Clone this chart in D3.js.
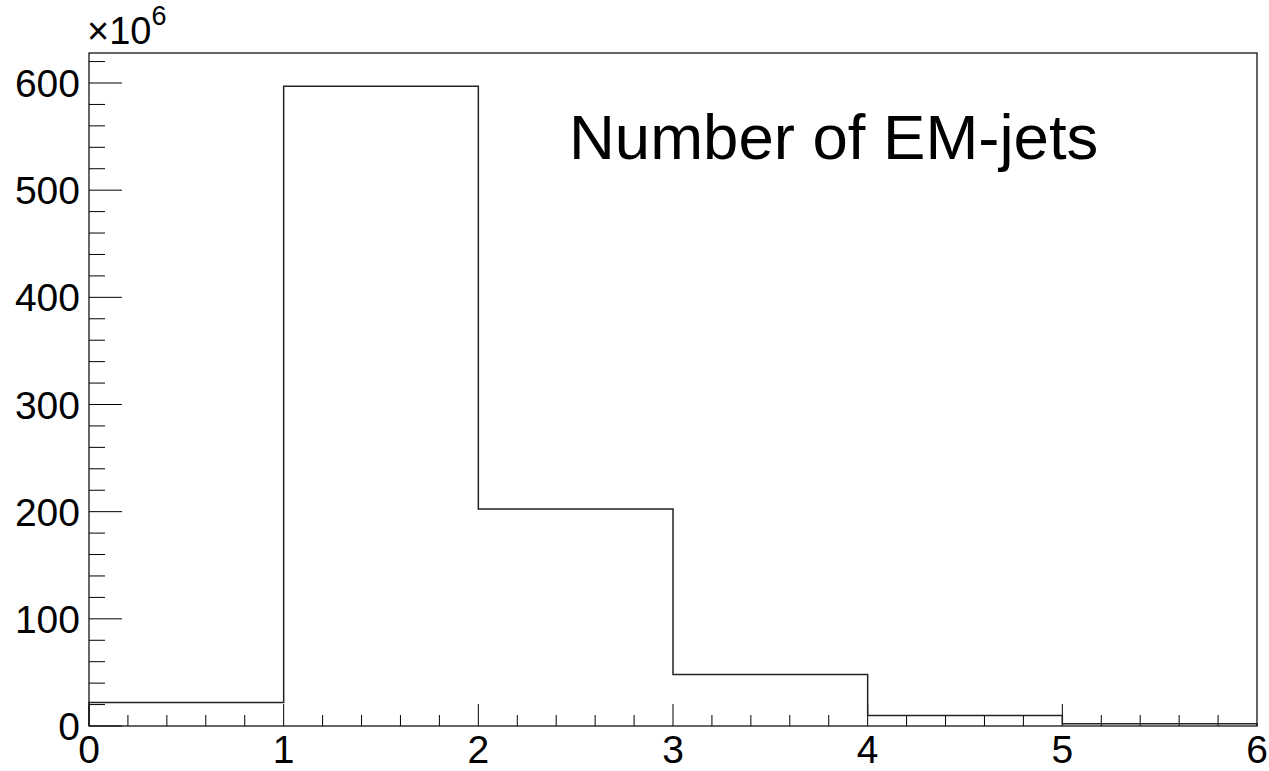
<!DOCTYPE html>
<html>
<head>
<meta charset="utf-8">
<script src="https://cdn.jsdelivr.net/npm/d3@7"></script>
<style>
  body { margin: 0; background: #fff; }
  text { font-family: "Liberation Sans", Arial, sans-serif; fill: #000; }
</style>
</head>
<body>
<script>
// histogram bins (number of EM-jets), contents in units of 1e6
var binEdges = [0, 1, 2, 3, 4, 5, 6];
var binCounts = [22, 597, 202.5, 48, 9.8, 2.1];
var xTicks = [0, 1, 2, 3, 4, 5, 6];
var yTicks = [0, 100, 200, 300, 400, 500, 600];
var title = "Number of EM-jets";

var W = 1269, H = 771;
var m = {left: 89, right: 12, top: 53, bottom: 45};

var svg = d3.select("body").append("svg")
  .attr("width", W).attr("height", H);

var x = d3.scaleLinear().domain([0, 6]).range([m.left, W - m.right]);
var y = d3.scaleLinear().domain([0, 628]).range([H - m.bottom, m.top]);

// frame
svg.append("rect")
  .attr("x", x(0)).attr("y", y(628))
  .attr("width", x(6) - x(0)).attr("height", y(0) - y(628))
  .attr("fill", "none").attr("stroke", "#000").attr("stroke-width", 1.2);

// y ticks: major every 100, minor every 20
var yMinor = d3.range(0, 628, 20);
svg.selectAll("line.ymin").data(yMinor).enter().append("line")
  .attr("x1", x(0)).attr("x2", function(d) { return x(0) + (d % 100 === 0 ? 33 : 16); })
  .attr("y1", function(d) { return y(d); }).attr("y2", function(d) { return y(d); })
  .attr("stroke", "#000").attr("stroke-width", 1);

svg.selectAll("text.ylab").data(yTicks).enter().append("text")
  .attr("x", x(0) - 9).attr("y", function(d) { return y(d); })
  .attr("dy", "0.36em")
  .attr("text-anchor", "end").attr("font-size", 39)
  .text(function(d) { return d; });

// x ticks: major every 1, minor every 0.2
var xMinor = d3.range(0, 30).map(function(i) { return i / 5; });
svg.selectAll("line.xmin").data(xMinor).enter().append("line")
  .attr("x1", function(d) { return x(d); }).attr("x2", function(d) { return x(d); })
  .attr("y1", y(0)).attr("y2", function(d, i) { return y(0) - (i % 5 === 0 ? 22 : 11); })
  .attr("stroke", "#000").attr("stroke-width", 1);

svg.selectAll("text.xlab").data(xTicks).enter().append("text")
  .attr("x", function(d) { return x(d); }).attr("y", 763)
  .attr("text-anchor", "middle").attr("font-size", 39)
  .text(function(d) { return d; });

// exponent label
var ex = svg.append("text").attr("x", x(0) - 2).attr("y", 44).attr("font-size", 38);
ex.append("tspan").text("\u00d710");
ex.append("tspan").attr("dy", -19).attr("font-size", 27).text("6");

// histogram outline
var pts = [[binEdges[0], 0]];
binCounts.forEach(function(c, i) {
  pts.push([binEdges[i], c]);
  pts.push([binEdges[i + 1], c]);
});
pts.push([binEdges[binEdges.length - 1], 0]);

svg.append("path")
  .attr("d", d3.line().x(function(d) { return x(d[0]); }).y(function(d) { return y(d[1]); })(pts))
  .attr("fill", "none").attr("stroke", "#222").attr("stroke-width", 1.5);

// title
svg.append("text").attr("x", 569).attr("y", 159)
  .attr("font-size", 63.5).text(title);
</script>
</body>
</html>
